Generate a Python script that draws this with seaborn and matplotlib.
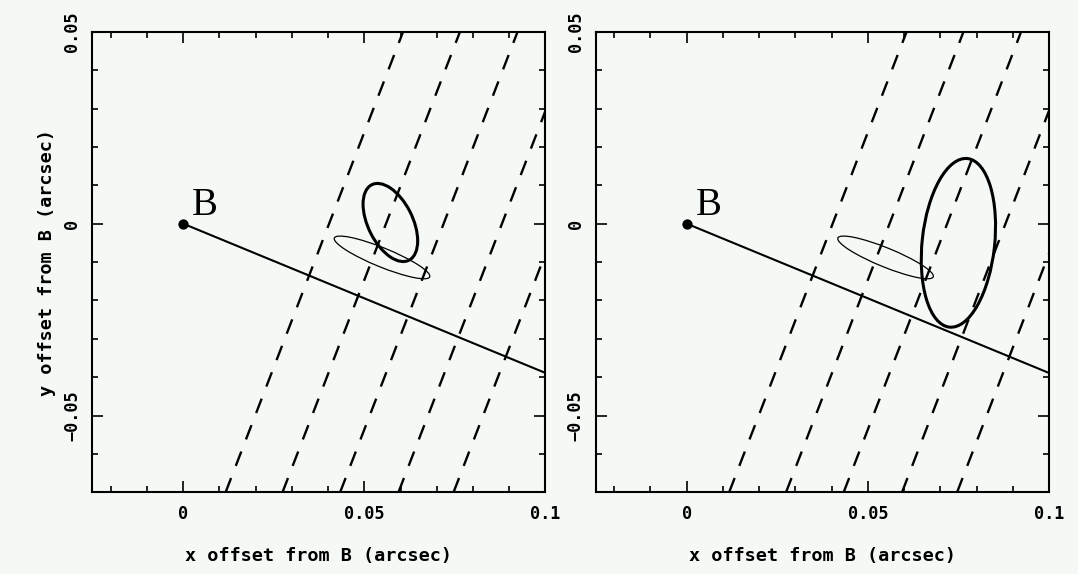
import numpy as np
import pandas as pd
import matplotlib
matplotlib.use("Agg")
import matplotlib.pyplot as plt
from matplotlib.patches import Ellipse
from matplotlib.ticker import MultipleLocator
import seaborn as sns

# Axis limits (arcsec)
x_limits = [-0.025, 0.1]
y_limits = [-0.07, 0.05]

# Reference star B and the projected track direction
star_x = [0.0]
star_y = [0.0]
track_x = [0.0, 0.1]
track_y = [0.0, -0.0389]

# Parallel dashed fringes: x-intercept at y = 0 and common slope dy/dx
fringe_x0 = [0.0403, 0.0560, 0.0719, 0.0880, 0.1032]
fringe_slope = 2.45

# Error ellipses: centre x, centre y, semi-major, semi-minor, angle (deg)
thin_ellipse = [0.0549, -0.0088, 0.0141, 0.0025, -21.0]
thick_ellipse_left = [0.0572, 0.0003, 0.0111, 0.0061, -61.5]
thick_ellipse_right = [0.0750, -0.0050, 0.0221, 0.0100, 83.4]

x_major = [0.0, 0.05, 0.1]
x_major_labels = ["0", "0.05", "0.1"]
y_major = [-0.05, 0.0, 0.05]
y_major_labels = ["\u22120.05", "0", "0.05"]

xlabel_text = "x offset from B (arcsec)"
ylabel_text = "y offset from B (arcsec)"
star_label = "B"

bg = "#f5f9f6"
sns.set_style("ticks")
plt.rcParams.update({
    "figure.facecolor": bg,
    "axes.facecolor": bg,
    "savefig.facecolor": bg,
    "axes.edgecolor": "black",
    "axes.linewidth": 1.5,
    "text.color": "black",
    "axes.labelcolor": "black",
    "xtick.color": "black",
    "ytick.color": "black",
})
plt.rcParams["font.family"] = ["DejaVu Sans Mono"]

label_font = dict(family="DejaVu Sans Mono", weight="bold", size=13.3,
                  color="black")
tick_font = dict(family="DejaVu Sans Mono", weight="bold", size=12.2,
                 color="black")

fig = plt.figure(figsize=(10.78, 5.74), dpi=100)
ax_left = fig.add_axes([0.0858, 0.1423, 0.4202, 0.8024])
ax_right = fig.add_axes([0.5529, 0.1423, 0.4202, 0.8024])

# Build the fringe line table from intercepts
fy = np.array([y_limits[0], y_limits[1]])
rows = []
for i, x0 in enumerate(fringe_x0):
    for yv in fy:
        rows.append({"line": i, "x": x0 + yv / fringe_slope, "y": yv})
fringes = pd.DataFrame(rows)
track = pd.DataFrame({"x": track_x, "y": track_y})
star = pd.DataFrame({"x": star_x, "y": star_y})


def draw_panel(ax, thick, show_ylabel):
    sns.lineplot(data=fringes, x="x", y="y", units="line", estimator=None,
                 sort=False, color="black", linewidth=1.7,
                 linestyle=(0, (6.5, 5.5)), ax=ax)
    sns.lineplot(data=track, x="x", y="y", sort=False, estimator=None,
                 color="black", linewidth=1.5, ax=ax)
    sns.scatterplot(data=star, x="x", y="y", s=55, color="black",
                    edgecolor="black", linewidth=0, zorder=5, ax=ax)
    ax.text(star_x[0] + 0.0025, star_y[0] + 0.0022, star_label,
            family="Liberation Serif", size=28, ha="left", va="baseline",
            color="black")

    cx, cy, a, b, ang = thin_ellipse
    ax.add_patch(Ellipse((cx, cy), 2 * a, 2 * b, angle=ang, fill=False,
                         edgecolor="black", linewidth=0.9))
    cx, cy, a, b, ang = thick
    ax.add_patch(Ellipse((cx, cy), 2 * a, 2 * b, angle=ang, fill=False,
                         edgecolor="black", linewidth=2.2))

    ax.set_xlim(x_limits)
    ax.set_ylim(y_limits)
    ax.set_xticks(x_major)
    ax.set_xticklabels(x_major_labels, fontdict=tick_font)
    ax.set_yticks(y_major)
    ax.set_yticklabels(y_major_labels, fontdict=tick_font,
                       rotation=90, va="center")
    ax.xaxis.set_minor_locator(MultipleLocator(0.01))
    ax.yaxis.set_minor_locator(MultipleLocator(0.01))
    ax.tick_params(which="both", direction="in", top=True, right=True,
                   color="black", width=1.2)
    ax.tick_params(which="major", length=8)
    ax.tick_params(which="minor", length=4.3)
    ax.tick_params(axis="x", which="major", pad=9)
    ax.tick_params(axis="y", which="major", pad=8)
    for s in ax.spines.values():
        s.set_visible(True)
        s.set_linewidth(1.5)
        s.set_color("black")

    ax.set_xlabel(xlabel_text, fontdict=label_font, va="center")
    ax.xaxis.set_label_coords(0.5, -63.7 / 460.6)
    if show_ylabel:
        ax.set_ylabel(ylabel_text, fontdict=label_font, va="center")
        ax.yaxis.set_label_coords(-45.0 / 453.0, 0.5)
    else:
        ax.set_ylabel("")


draw_panel(ax_left, thick_ellipse_left, True)
draw_panel(ax_right, thick_ellipse_right, False)

fig.savefig("out.png", dpi=100, facecolor=bg)
